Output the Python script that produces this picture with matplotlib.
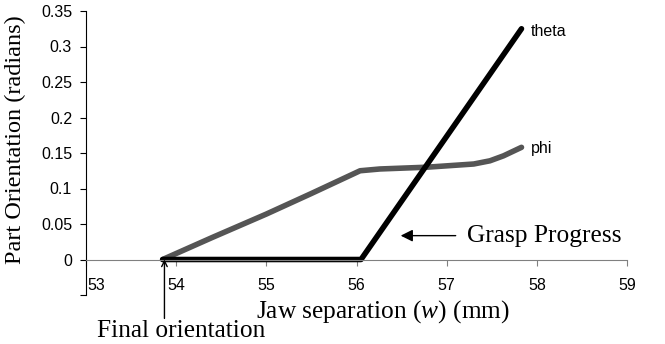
import matplotlib.pyplot as plt
from matplotlib.transforms import ScaledTranslation

plt.rcParams["font.family"] = ["Liberation Sans", "DejaVu Sans"]
plt.rcParams["mathtext.fontset"] = "custom"
plt.rcParams["mathtext.rm"] = "Liberation Serif"
plt.rcParams["mathtext.it"] = "Liberation Serif:italic"

# data
theta_x = [53.85, 56.05, 57.83]
theta_y = [0.0, 0.0, 0.325]

phi_x = [53.85, 54.4, 55.0, 55.5, 56.04, 56.26, 56.78, 57.30, 57.48, 57.63, 57.83]
phi_y = [0.0, 0.031, 0.064, 0.093, 0.125, 0.1275, 0.130, 0.1345, 0.139, 0.146, 0.158]

x_ticks = [53, 54, 55, 56, 57, 58, 59]
y_ticks = [-0.05, 0, 0.05, 0.1, 0.15, 0.2, 0.25, 0.3, 0.35]
y_labels = ["", "0", "0.05", "0.1", "0.15", "0.2", "0.25", "0.3", "0.35"]

serif = "Liberation Serif"
big = 18.3

fig = plt.figure(figsize=(6.65, 3.44), dpi=100)
ax = fig.add_axes([86 / 665, 1 - 295 / 344, 541 / 665, 284 / 344])

ax.plot(phi_x, phi_y, color="#555555", lw=4, solid_capstyle="round", clip_on=False)
ax.plot(theta_x, theta_y, color="black", lw=4, solid_capstyle="round", clip_on=False)

ax.set_xlim(53, 59)
ax.set_ylim(-0.0476, 0.35)

# x axis crosses at 0, like the original
ax.spines["bottom"].set_position(("data", 0))
ax.spines["bottom"].set_color("#808080")
ax.spines["top"].set_visible(False)
ax.spines["right"].set_visible(False)

ax.set_xticks(x_ticks)
ax.set_xticklabels([str(v) for v in x_ticks])
ax.set_yticks(y_ticks)
ax.set_yticklabels(y_labels)
ax.tick_params(axis="x", length=4, pad=9, labelsize=11.5, color="#808080")
ax.tick_params(axis="y", length=4, pad=6, labelsize=11.5)

# first x label sits clear of the y axis
first = ax.get_xticklabels()[0]
first.set_transform(first.get_transform() + ScaledTranslation(10 / 100, 0, fig.dpi_scale_trans))

ax.set_ylabel("Part Orientation (radians)", family=serif, fontsize=17.5, va="center")
ax.yaxis.set_label_coords(-0.131, 0.546)
ax.set_xlabel("Jaw separation ($\\mathit{w}$) (mm)", family=serif, fontsize=big, va="center")
ax.xaxis.set_label_coords(0.549, -0.06)

# series labels
ax.text(57.93, 0.321, "theta", fontsize=11.5, va="center", ha="left")
ax.text(57.93, 0.157, "phi", fontsize=11.5, va="center", ha="left")

# annotations
ax.annotate("", xy=(53.87, 0.0), xytext=(53.87, -0.083),
            arrowprops=dict(arrowstyle="->", lw=1.0, color="black", shrinkA=0, shrinkB=0),
            annotation_clip=False)
ax.text(54.05, -0.101, "Final orientation", family=serif, fontsize=big,
        ha="center", va="center", clip_on=False)

ax.annotate("", xy=(56.49, 0.0336), xytext=(57.10, 0.0336),
            arrowprops=dict(arrowstyle="-|>", lw=1.0, color="black", mutation_scale=18,
                            shrinkA=0, shrinkB=0))
ax.text(57.22, 0.0336, "Grasp Progress", family=serif, fontsize=big,
        ha="left", va="center")

plt.savefig("out.png", dpi=100)
